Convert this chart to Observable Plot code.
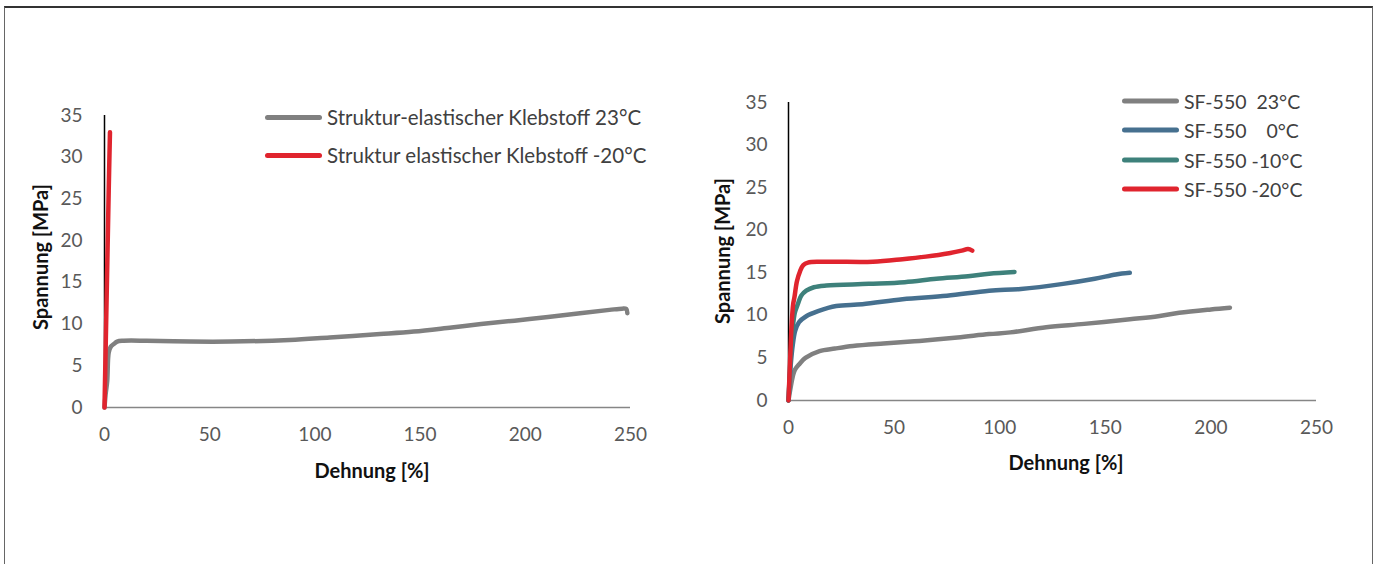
<!DOCTYPE html>
<html><head><meta charset="utf-8">
<script src="https://cdn.jsdelivr.net/npm/d3@7"></script>
<script src="https://cdn.jsdelivr.net/npm/@observablehq/plot@0.6"></script>
<style>
body{margin:0;background:#fff;}
#wrap{position:relative;width:1379px;height:564px;overflow:hidden;font-family:Lato,"Open Sans",sans-serif;}
.frame{position:absolute;left:4px;top:6px;width:1367px;height:570px;border-top:2px solid #333;border-left:1px solid #666;border-right:1px solid #666;}
.plot{position:absolute;top:0;}
.ytitle{position:absolute;font-weight:bold;font-size:20px;color:#111;transform:translate(-50%,-50%) rotate(-90deg);white-space:nowrap;}
.xtitle{position:absolute;font-weight:bold;font-size:20px;color:#111;transform:translate(-50%,-50%);white-space:nowrap;}
.leg{position:absolute;display:flex;align-items:center;color:#404040;white-space:pre;transform:translateY(-50%);}
.sw{display:inline-block;height:5px;border-radius:3px;margin-right:5px;}
</style></head>
<body><div id="wrap"><div class="frame"></div></div>
<script>
// ---- data ----
const xTicks = [0, 50, 100, 150, 200, 250];
const yTicks = [0, 5, 10, 15, 20, 25, 30, 35];

const leftNames = ["Struktur-elastischer Klebstoff 23°C", "Struktur elastischer Klebstoff -20°C"];
const leftColors = ["#808080", "#e0242e"];
const leftGray23 = [[0,0],[0.5,1.5],[1.3,3.2],[2,6.6],[3,7.3],[4.4,7.6],[6,7.9],[9,8.0],[20,8.0],[41,7.9],[60,7.9],[88,8.1],[107,8.4],[131,8.8],[147,9.1],[165,9.6],[179,10.0],[202,10.6],[226,11.3],[240,11.7],[246,11.85],[248,11.8],[248.5,11.3]];
const leftRedM20 = [[0,0],[1,13],[2,26],[2.6,33]];

const rightNames = ["SF-550  23°C", "SF-550    0°C", "SF-550 -10°C", "SF-550 -20°C"];
const rightColors = ["#808080", "#46708f", "#3e817b", "#e0242e"];
const sf23 = [[0,0],[1,1.5],[2,2.8],[3,3.6],[5.2,4.3],[8,5],[14.7,5.8],[22,6.1],[30.5,6.4],[45,6.7],[62,7.0],[80,7.4],[95,7.8],[105,8.0],[122,8.6],[140,9.0],[161.6,9.55],[175,9.9],[185,10.3],[200,10.7],[209,10.9]];
const sf0 = [[0,0],[1,4],[2,6.5],[3.2,8.2],[5,9.2],[8.4,9.9],[14,10.5],[22.6,11.1],[35,11.3],[54,11.9],[75,12.3],[95,12.9],[110,13.1],[130,13.7],[145,14.3],[155,14.8],[161.6,15.0]];
const sfM10 = [[0,0],[1,5],[2,8.5],[3,10.3],[4.4,11.3],[6,12.3],[8.4,12.9],[12,13.3],[17.9,13.5],[38,13.7],[55,13.9],[70,14.3],[85,14.6],[95,14.9],[107,15.1]];
const sfM20 = [[0,0],[0.8,5],[1.5,9],[2.2,11.3],[2.8,12.1],[4,14],[5.5,15.2],[7,15.9],[9.2,16.2],[15,16.3],[22.6,16.3],[40,16.3],[54,16.6],[65,16.9],[76,17.3],[82,17.6],[85,17.8],[87,17.6]];

const xTitle = "Dehnung [%]";
const yTitle = "Spannung [MPa]";

// ---- drawing ----
const wrap = document.getElementById("wrap");
const lineOpts = (c) => ({x: d => d[0], y: d => d[1], stroke: c, strokeWidth: 4.5, strokeLinecap: "round", strokeLinejoin: "round", curve: "catmull-rom"});

function chart(cfg) {
  return Plot.plot({
    width: cfg.width, height: 564,
    marginLeft: cfg.ml, marginRight: cfg.mr, marginTop: cfg.mt, marginBottom: cfg.mb,
    x: {domain: [0, 250], ticks: xTicks, tickSize: 0, tickPadding: cfg.xpad, label: null},
    y: {domain: [0, 35], ticks: yTicks, tickSize: 0, tickPadding: cfg.ypad, label: null},
    style: {fontFamily: "Lato, 'Open Sans', sans-serif", fontSize: "19px", color: "#595959", background: "transparent", overflow: "visible"},
    marks: [
      Plot.ruleY([0], {stroke: "#868686", strokeWidth: 1.5}),
      Plot.ruleX([0], {y1: 0, y2: 35, stroke: "#000", strokeWidth: 1.5}),
      ...cfg.series.map((s, i) => Plot.line(s, lineOpts(cfg.colors[i])))
    ]
  });
}

const left = chart({width: 690, ml: 104, mr: 60, mt: 115, mb: 157, xpad: 20, ypad: 22,
  series: [leftGray23, leftRedM20], colors: leftColors});
left.classList.add("plot"); left.style.left = "0px";
wrap.appendChild(left);

const right = chart({width: 689, ml: 98, mr: 63, mt: 102, mb: 164, xpad: 20, ypad: 21,
  series: [sf23, sf0, sfM10, sfM20], colors: rightColors});
right.classList.add("plot"); right.style.left = "690px";
wrap.appendChild(right);

function addText(cls, txt, x, y) {
  const d = document.createElement("div");
  d.className = cls; d.textContent = txt;
  d.style.left = x + "px"; d.style.top = y + "px";
  wrap.appendChild(d);
}
addText("ytitle", yTitle, 40, 257);
addText("ytitle", yTitle, 722, 251);
addText("xtitle", xTitle, 372, 470);
addText("xtitle", xTitle, 1066, 462);

function addLegend(names, colors, x, ys, sw, fs) {
  names.forEach((n, i) => {
    const d = document.createElement("div");
    d.className = "leg";
    d.style.left = x + "px"; d.style.top = ys[i] + "px"; d.style.fontSize = fs + "px";
    const s = document.createElement("span");
    s.className = "sw"; s.style.width = sw + "px"; s.style.background = colors[i];
    d.appendChild(s);
    d.appendChild(document.createTextNode(n));
    wrap.appendChild(d);
  });
}
addLegend(leftNames, leftColors, 265, [117, 155], 57, 20.5);
addLegend(rightNames, rightColors, 1122, [101, 130, 160, 189], 57, 19.5);
</script>
</body></html>
